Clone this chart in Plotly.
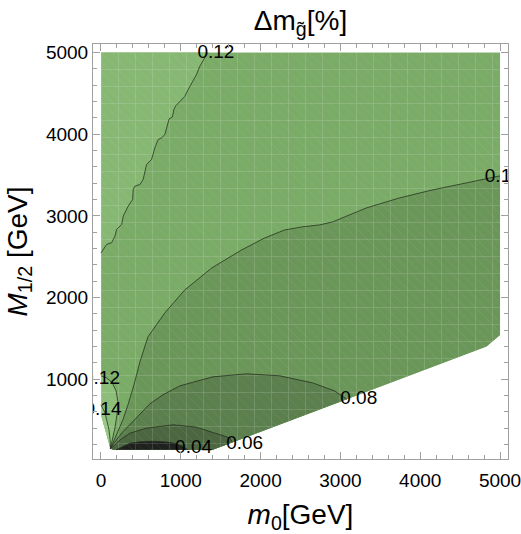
import plotly.graph_objects as go

# ---------------- data (GeV) ----------------
# computed domain outline
DOMAIN_X = [0, 5000, 5000, 4830, 1400, 150, 118, 0]
DOMAIN_Y = [5000, 5000, 1540, 1400, 135, 135, 150, 565]

# contour 0.12 (upper-left branch)
C012_TOP_X = [1338, 1300, 1238, 1196, 1134, 1091, 1050, 988, 938, 913, 896, 854, 829, 800, 759,
              716, 675, 634, 571, 550, 529, 488, 425, 404, 396, 341, 279, 259, 196, 175, 134, 71, 29, 9, 0]
C012_TOP_Y = [5000, 4933, 4831, 4729, 4627, 4545, 4463, 4402, 4349, 4302, 4213, 4188, 4098, 3996, 3956,
              3935, 3833, 3692, 3630, 3548, 3447, 3384, 3364, 3323, 3201, 3119, 2997, 2895, 2834, 2752,
              2671, 2651, 2590, 2557, 2545]

# contour 0.12 (lower-left branch)
C012_LOW_X = [0, 63, 138, 188, 213, 200, 175, 140, 118]
C012_LOW_Y = [1040, 1020, 960, 860, 723, 564, 404, 250, 150]

# contour 0.14
C014_X = [0, 25, 50, 71, 100, 115, 118]
C014_Y = [686, 637, 588, 502, 379, 257, 150]

# contour 0.10
C010_X = [118, 150, 213, 275, 338, 413, 488, 588, 800, 1050, 1388, 1763, 2050, 2300, 2513, 2738,
          2900, 3325, 3738, 4150, 4575, 4825, 5000]
C010_Y = [150, 220, 355, 502, 686, 930, 1212, 1518, 1812, 2093, 2362, 2583, 2729, 2827, 2864, 2889,
          2925, 3097, 3219, 3317, 3403, 3452, 3490]

# contour 0.08
C008_X = [118, 175, 263, 363, 488, 613, 775, 988, 1400, 1825, 2238, 2650, 2925, 3080]
C008_Y = [150, 233, 343, 441, 575, 698, 808, 918, 1028, 1065, 1041, 955, 857, 755]

# contour 0.06
C006_X = [118, 154, 238, 363, 571, 904, 1196, 1446, 1613, 1650]
C006_Y = [150, 175, 257, 339, 400, 441, 412, 339, 281, 228]

# contour 0.04
C004_X = [190, 275, 363, 488, 650, 800, 925, 1025, 1088]
C004_Y = [135, 177, 214, 232, 239, 232, 214, 177, 135]

# contour labels
LABEL_TEXT = ["0.12", "0.1", "0.12", "0.14", "0.08", "0.06", "0.04"]
LABEL_X = [1440, 4975, 6, 25, 3230, 1800, 1160]
LABEL_Y = [4994, 3470, 1004, 624, 760, 200, 150]

X_TICKS = [0, 1000, 2000, 3000, 4000, 5000]
Y_TICKS = [1000, 2000, 3000, 4000, 5000]

# ---------------- style ----------------
COL_A = "#86b873"   # > 0.12 (top-left)
COL_B = "#7aab67"   # 0.10 - 0.12
COL_G = "#8cbe79"   # 0.12 - 0.14 (lower-left)
COL_H = "#98c886"   # > 0.14
COL_C = "#6b9659"   # 0.08 - 0.10
COL_D = "#5c7f4e"   # 0.06 - 0.08
COL_E = "#4b6641"   # 0.04 - 0.06
COL_F = "#1f211e"   # < 0.04
LINE_COL = "rgba(35,45,28,0.75)"
FONT = "Liberation Sans, Arial, sans-serif"

# lower-right domain edge used to close the low-value regions
EDGE_X = DOMAIN_X[2:6]
EDGE_Y = DOMAIN_Y[2:6]

fig = go.Figure()


def poly(xs, ys, color):
    fig.add_trace(go.Scatter(x=xs, y=ys, mode="lines", fill="toself", fillcolor=color,
                             line=dict(width=0, color=color), hoverinfo="skip"))


def texture(xs, ys, shape, size, solidity, opacity):
    fig.add_trace(go.Scatter(x=xs, y=ys, mode="lines", fill="toself", fillcolor="rgba(0,0,0,0)",
                             fillpattern=dict(shape=shape, size=size, solidity=solidity,
                                              fgcolor="white", fgopacity=opacity,
                                              bgcolor="rgba(0,0,0,0)"),
                             line=dict(width=0, color="rgba(0,0,0,0)"), hoverinfo="skip"))


def cline(xs, ys):
    fig.add_trace(go.Scatter(x=xs, y=ys, mode="lines",
                             line=dict(width=1, color=LINE_COL), hoverinfo="skip"))


# whole domain in the 0.10-0.12 colour
poly(DOMAIN_X, DOMAIN_Y, COL_B)
# > 0.12 upper-left
poly(C012_TOP_X + [0], C012_TOP_Y + [5000], COL_A)
# > 0.12 lower-left
poly(C012_LOW_X + [DOMAIN_X[7]], C012_LOW_Y + [DOMAIN_Y[7]], COL_G)
# > 0.14
poly(C014_X + [DOMAIN_X[7]], C014_Y + [DOMAIN_Y[7]], COL_H)
# < 0.10
poly(C010_X + EDGE_X, C010_Y + EDGE_Y, COL_C)
# < 0.08
poly(C008_X + EDGE_X[2:], C008_Y + EDGE_Y[2:], COL_D)
# < 0.06
poly(C006_X + EDGE_X[2:], C006_Y + EDGE_Y[2:], COL_E)
# < 0.04
poly(C004_X, C004_Y, COL_F)

# faint rendering mesh seen in the reference
texture(DOMAIN_X, DOMAIN_Y, "+", 17, 0.07, 0.22)
texture(DOMAIN_X, DOMAIN_Y, "\\", 7, 0.12, 0.08)

for xs, ys in [(C012_TOP_X, C012_TOP_Y), (C012_LOW_X, C012_LOW_Y), (C014_X, C014_Y),
               (C010_X, C010_Y), (C008_X, C008_Y), (C006_X, C006_Y), (C004_X, C004_Y)]:
    cline(xs, ys)

fig.add_trace(go.Scatter(x=LABEL_X, y=LABEL_Y, mode="text", text=LABEL_TEXT,
                         textposition="middle center", cliponaxis=True,
                         textfont=dict(size=19, color="black", family=FONT), hoverinfo="skip"))

axis_common = dict(
    showgrid=False, zeroline=False, showline=True, mirror="allticks",
    linecolor="#a0a0a0", linewidth=1, ticks="inside", ticklen=7, tickwidth=1,
    tickcolor="#a0a0a0", tickfont=dict(size=19, color="black", family=FONT),
    ticklabeloverflow="allow", automargin=False,
    minor=dict(dtick=200, ticks="inside", ticklen=4, tickcolor="#a0a0a0", tickwidth=1),
)

fig.update_layout(
    width=521, height=534,
    margin=dict(l=93, r=13, t=44, b=75, autoexpand=False),
    paper_bgcolor="white", plot_bgcolor="white",
    showlegend=False,
    title=dict(text="Δm<sub>g̃</sub>[%]", x=0.5, xref="paper", xanchor="center",
               y=1 - 20 / 534, yref="container", yanchor="middle",
               font=dict(size=28, color="black", family=FONT)),
    xaxis=dict(range=[-100, 5100], tickvals=X_TICKS, ticktext=[str(v) for v in X_TICKS],
               ticklabelstandoff=4,
               title=dict(text="<i>m</i><sub>0</sub>[GeV]", font=dict(size=28, color="black", family=FONT),
                          standoff=16),
               **axis_common),
    yaxis=dict(range=[22, 5105], tickvals=Y_TICKS, ticktext=[str(v) for v in Y_TICKS],
               title=dict(text="<i>M</i><sub>1/2</sub> [GeV]", font=dict(size=28, color="black", family=FONT),
                          standoff=10),
               **axis_common),
)

fig.write_html("out.html")
